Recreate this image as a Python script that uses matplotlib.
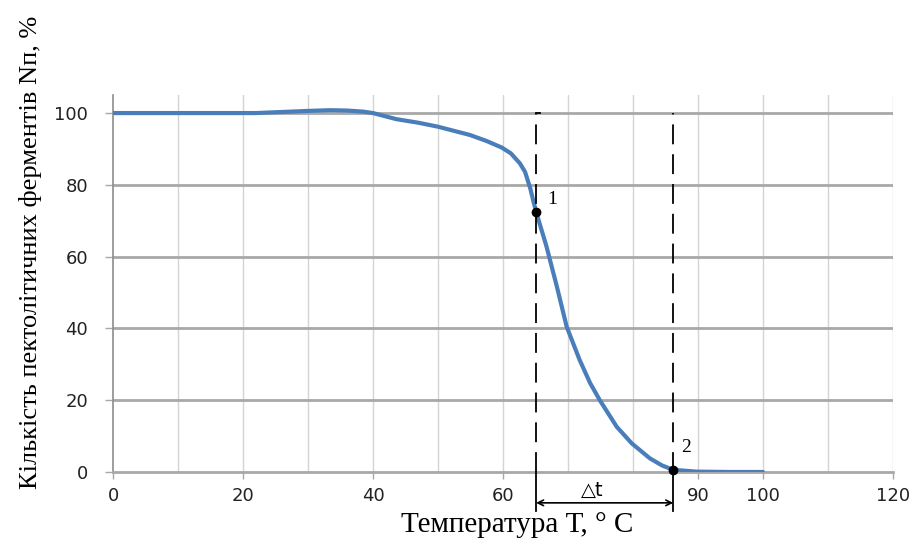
import matplotlib.pyplot as plt
import numpy as np

# Температура, °C і кількість ферментів, %
temp = [0, 10, 20, 22, 26, 30, 33.4, 36, 38.5, 40, 43.6, 47, 50, 54.9, 57.5,
        59.8, 61.2, 62.6, 63.4, 64.2, 64.7, 65.1, 66.7, 68.3, 69.8, 71.8, 73.4,
        74.9, 77.5, 79.8, 82.6, 84.5, 86.2, 89.8, 95, 100]
enzymes = [100, 100, 100, 100, 100.3, 100.6, 100.8, 100.7, 100.4, 100, 98.3,
           97.3, 96.2, 93.9, 92.2, 90.4, 88.8, 86.0, 83.6, 79.0, 75.3, 72.5,
           62.8, 51.6, 40.5, 31.2, 24.8, 20.0, 12.6, 8.0, 3.8, 1.8, 0.6, 0.1,
           0, 0]

x_ticks = [0, 20, 40, 60, 90, 100, 120]
x_tick_labels = ['0', '20', '40', '60', '90', '100', '120']
y_ticks = [0, 20, 40, 60, 80, 100]

t1, n1 = 65.1, 72.5   # точка 1
t2, n2 = 86.2, 0.6    # точка 2

serif = ['Liberation Serif', 'DejaVu Serif']

fig = plt.figure(figsize=(9.13, 5.53), dpi=100)
ax = fig.add_axes([0.1238, 0.1465, 0.8542, 0.6815])

ax.set_xlim(0, 120)
ax.set_ylim(0, 105)

# сітка
for gx in np.arange(10, 121, 10):
    ax.axvline(gx, color='#d4d4d4', lw=1.0, zorder=0)
for gy in y_ticks[1:]:
    ax.axhline(gy, color='#a8a8a8', lw=2.0, zorder=1)

ax.plot(temp, enzymes, color='#4a7ebb', lw=3, zorder=3,
        solid_capstyle='round', solid_joinstyle='round')

# пунктирні лінії та стрілка
for t in (t1, t2):
    ax.plot([t, t], [0, 100], color='black', lw=1.3, ls=(0, (11, 5.5)),
            zorder=4)
    ax.plot([t, t], [0, -11], color='black', lw=1.3, clip_on=False, zorder=4)
ax.plot([t1, t1 + 0.6], [100, 100], color='black', lw=1.3, zorder=4)
ax.annotate('', xy=(t1, -8.6), xytext=(t2, -8.6), annotation_clip=False,
            arrowprops=dict(arrowstyle='<->', color='black', lw=1.2,
                            shrinkA=0, shrinkB=0))
ax.text(73.8, -5.2, '△t', ha='center', va='center', fontsize=14,
        family=['DejaVu Sans'], clip_on=False)

ax.plot([t1, t2], [n1, n2], 'o', color='black', ms=6, ls='none', zorder=5,
        clip_on=False)
ax.text(67.5, 75.8, '1', fontsize=14, family=serif, ha='center', va='center')
ax.text(88.2, 6.9, '2', fontsize=14, family=serif, ha='center', va='center')

ax.set_xticks(x_ticks)
ax.set_xticklabels(x_tick_labels)
ax.set_yticks(y_ticks)
ax.tick_params(axis='x', length=5, width=1, color='#a8a8a8', labelsize=13,
               pad=6, labelcolor='#222222')
ax.tick_params(axis='y', length=6, width=1, color='#a8a8a8', labelsize=13,
               pad=12, labelcolor='#222222')

for side in ('top', 'right'):
    ax.spines[side].set_visible(False)
ax.spines['left'].set_color('#8c8c8c')
ax.spines['left'].set_linewidth(1.2)
ax.spines['bottom'].set_color('#a8a8a8')
ax.spines['bottom'].set_linewidth(2.0)

fig.text(0.566, 0.051, 'Температура Т, ° С', ha='center', va='center',
         fontsize=21, family=serif)
fig.text(0.033, 0.543, 'Кількість пектолітичних ферментів Nп, %',
         rotation=90, ha='center', va='center', fontsize=19, family=serif)

fig.savefig('out.png', dpi=100)
